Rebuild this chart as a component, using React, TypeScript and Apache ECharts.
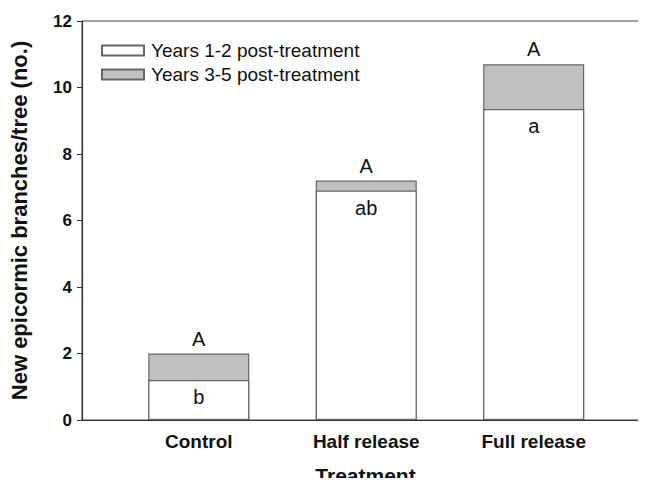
import React, { useEffect, useRef } from "react";
import * as echarts from "echarts";

const categories = ["Control", "Half release", "Full release"];
const years12 = [1.2, 6.9, 9.35];
const years35 = [0.8, 0.3, 1.35];
const upperLetters = ["A", "A", "A"];
const lowerLetters = ["b", "ab", "a"];
const yTicks = [0, 2, 4, 6, 8, 10, 12];

const FONT = "Liberation Sans, Arial, sans-serif";

export default function App() {
  const ref = useRef<HTMLDivElement>(null);
  useEffect(() => {
    if (!ref.current) return;
    const chart = echarts.init(ref.current, undefined, { renderer: "svg" });
    const positions = categories.map((_, i) => i + 1);
    const totals = years12.map((v, i) => v + years35[i]);
    chart.setOption({
      animation: false,
      backgroundColor: "#ffffff",
      textStyle: { fontFamily: FONT },
      grid: {
        left: 82,
        right: -3,
        top: 21,
        bottom: 66,
        outerBoundsMode: "none",
        containLabel: false,
        show: true,
        borderColor: "#444",
        borderWidth: 1,
        backgroundColor: "transparent",
      },
      legend: {
        orient: "vertical",
        left: 101,
        top: 41,
        padding: 0,
        itemWidth: 42,
        itemHeight: 10,
        itemGap: 5,
        icon: "rect",
        textStyle: { fontSize: 19, lineHeight: 18, color: "#111", fontFamily: FONT, padding: [0, 0, 0, 2] },
        data: ["Years 1-2 post-treatment", "Years 3-5 post-treatment"],
      },
      xAxis: {
        type: "value",
        min: 0.3025,
        max: 3.6886,
        name: "Treatment",
        nameLocation: "middle",
        nameGap: 45,
        nameTextStyle: { fontSize: 21, fontWeight: "bold", color: "#111", fontFamily: FONT },
        axisLine: { show: true, lineStyle: { color: "#333", width: 1.2 } },
        axisTick: { show: false },
        splitLine: { show: false },
        axisLabel: {
          customValues: positions,
          formatter: (v: number) => categories[Math.round(v) - 1] ?? "",
          fontSize: 19,
          fontWeight: "bold",
          color: "#111",
          margin: 12,
          fontFamily: FONT,
        },
      },
      yAxis: {
        type: "value",
        min: yTicks[0],
        max: yTicks[yTicks.length - 1],
        interval: 2,
        name: "New epicormic branches/tree (no.)",
        nameLocation: "middle",
        nameGap: 52,
        nameTextStyle: { fontSize: 22, fontWeight: "bold", color: "#111", fontFamily: FONT },
        axisLine: { show: true, lineStyle: { color: "#333", width: 1.2 } },
        axisTick: { show: true, inside: false, length: 5, lineStyle: { color: "#333" } },
        splitLine: { show: false },
        axisLabel: { fontSize: 17, fontWeight: "bold", color: "#111", margin: 10, fontFamily: FONT },
      },
      series: [
        {
          name: "Years 3-5 post-treatment",
          type: "bar",
          barWidth: 101,
          barGap: "-100%",
          z: 2,
          data: positions.map((p, i) => [p, totals[i]]),
          itemStyle: { color: "#c0c0c0", borderColor: "#666", borderWidth: 1.2 },
          label: {
            show: true,
            position: "top",
            distance: 5,
            formatter: (p: any) => upperLetters[p.dataIndex],
            fontSize: 20,
            color: "#111",
            fontFamily: FONT,
          },
        },
        {
          name: "Years 1-2 post-treatment",
          type: "bar",
          barWidth: 101,
          barGap: "-100%",
          z: 3,
          data: positions.map((p, i) => [p, years12[i]]),
          itemStyle: { color: "#ffffff", borderColor: "#666", borderWidth: 1.2 },
          label: {
            show: true,
            position: "insideTop",
            distance: 7,
            formatter: (p: any) => lowerLetters[p.dataIndex],
            fontSize: 20,
            color: "#111",
            fontFamily: FONT,
          },
        },
      ],
    });
    return () => chart.dispose();
  }, []);
  return <div ref={ref} style={{ width: 646, height: 486, margin: -8 }} />;
}
